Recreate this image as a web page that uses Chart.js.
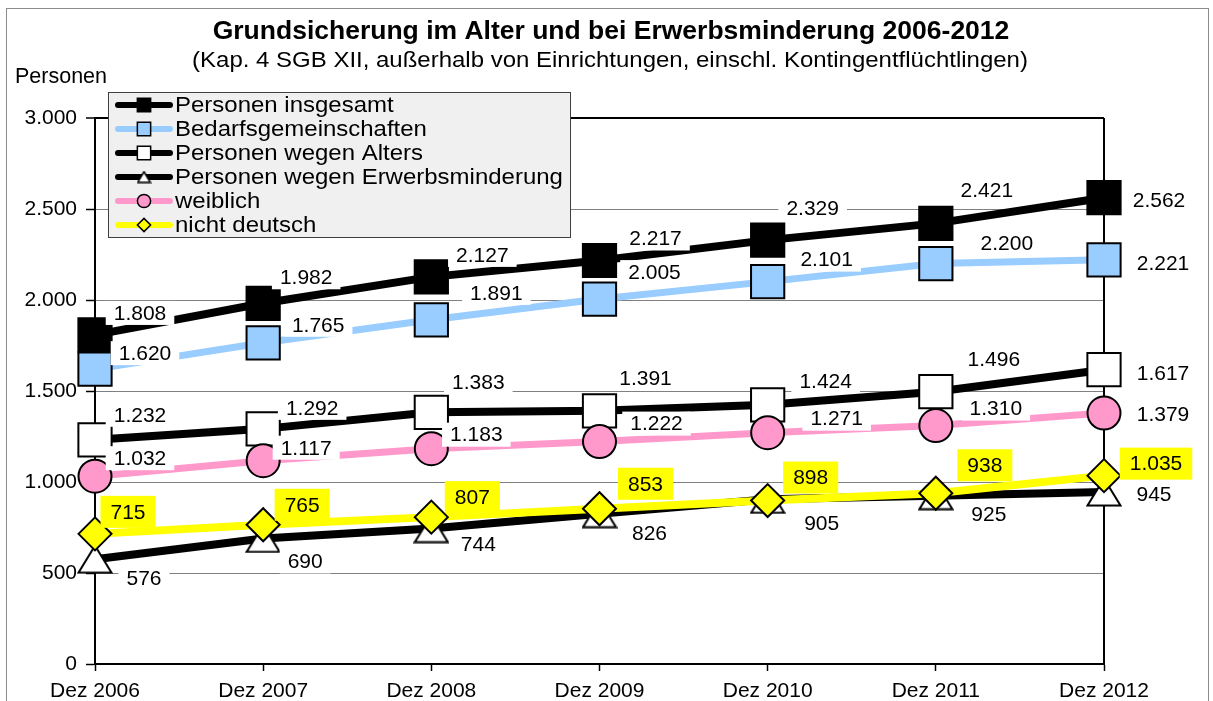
<!DOCTYPE html>
<html>
<head>
<meta charset="utf-8">
<script src="https://cdn.jsdelivr.net/npm/chart.js@4.4.0/dist/chart.umd.min.js"></script>
<style>
  html, body { margin: 0; padding: 0; background: #fff; }
  #wrap { width: 1213px; height: 701px; }
</style>
</head>
<body>
<div id="wrap"><canvas id="chart" width="1213" height="701"></canvas></div>
<script>
// data (Tsd. Personen)
const categories = ['Dez 2006', 'Dez 2007', 'Dez 2008', 'Dez 2009', 'Dez 2010', 'Dez 2011', 'Dez 2012'];
const personenInsgesamt = [1808, 1982, 2127, 2217, 2329, 2421, 2562];
const bedarfsgemeinschaften = [1620, 1765, 1891, 2005, 2101, 2200, 2221];
const wegenAlters = [1232, 1292, 1383, 1391, 1424, 1496, 1617];
const wegenErwerbsminderung = [576, 690, 744, 826, 905, 925, 945];
const weiblich = [1032, 1117, 1183, 1222, 1271, 1310, 1379];
const nichtDeutsch = [715, 765, 807, 853, 898, 938, 1035];
const yTicks = [0, 500, 1000, 1500, 2000, 2500, 3000];

const titleText = 'Grundsicherung im Alter und bei Erwerbsminderung 2006-2012';
const subtitleText = '(Kap. 4 SGB XII, außerhalb von Einrichtungen, einschl. Kontingentflüchtlingen)';
const FONT = '"Liberation Sans", Arial, sans-serif';

// label nudges relative to the point (px), like the hand-placed Excel labels
const nudgeX = [
  [45, 43, 51, 56, 45, 51, 55],
  [50, 55, 65, 55, 59, 71, 59],
  [45, 49, 47, 46, 58, 58, 59],
  [49, 42, 47, 50, 54, 53, 50],
  [45, 43, 45, 57, 69, 60, 59],
  [33, 39, 41, 46, 43, 49, 52]
];
const nudgeY = [
  [-22, -26, -22, -22, -32, -33, 2],
  [-16, -18, -27, -27, -22, -20, 3],
  [-25, -21, -30, -33, -24, -33, 3],
  [19, 23, 16, 20, 24, 19, 2],
  [-18, -13, -14, -18, -14, -17, 1],
  [-22, -20, -20, -25, -23, -28, -12]
];

function fmt(v) {
  return String(v).replace(/\B(?=(\d{3})+(?!\d))/g, '.');
}

// Excel-like triangle: centred on its bounding box, not on its centroid
function triangleMarker(w, h, lw) {
  const cv = document.createElement('canvas');
  cv.width = w; cv.height = h;
  const c = cv.getContext('2d');
  c.beginPath();
  c.moveTo(w / 2, lw / 2 + 0.5);
  c.lineTo(w - lw / 2 - 0.5, h - lw / 2 - 0.5);
  c.lineTo(lw / 2 + 0.5, h - lw / 2 - 0.5);
  c.closePath();
  c.fillStyle = '#fff';
  c.fill();
  c.lineWidth = lw;
  c.strokeStyle = '#000';
  c.stroke();
  return cv;
}
const bigTriangle = triangleMarker(36, 30, 2);
const smallTriangle = triangleMarker(15, 13, 1.5);

function makeSeries(label, data, line, fill, style, radius, width, labelBg) {
  return {
    label, data,
    borderColor: line,
    borderWidth: width,
    pointStyle: style,
    pointRadius: radius,
    pointBackgroundColor: fill,
    pointBorderColor: '#000',
    pointBorderWidth: 2,
    tension: 0,
    clip: false,
    labelBg
  };
}

const datasets = [
  makeSeries('Personen insgesamt', personenInsgesamt, '#000000', '#000000', 'rect', 23.5, 8, '#ffffff'),
  makeSeries('Bedarfsgemeinschaften', bedarfsgemeinschaften, '#99CCFF', '#99CCFF', 'rect', 23.5, 7, '#ffffff'),
  makeSeries('Personen wegen Alters', wegenAlters, '#000000', '#ffffff', 'rect', 23.5, 8, '#ffffff'),
  makeSeries('Personen wegen Erwerbsminderung', wegenErwerbsminderung, '#000000', '#ffffff', bigTriangle, 18, 8, '#ffffff'),
  makeSeries('weiblich', weiblich, '#FF99CC', '#FF99CC', 'circle', 16.5, 7, '#ffffff'),
  makeSeries('nicht deutsch', nichtDeutsch, '#FFFF00', '#FFFF00', 'rectRot', 16.5, 8, '#FFFF00')
];
// later series on top, as in the original
datasets.forEach((d, i) => { d.order = datasets.length - 1 - i; });

const framePlugin = {
  id: 'frame',
  beforeDraw(chart) {
    const c = chart.ctx;
    c.save();
    c.fillStyle = '#fff';
    c.fillRect(0, 0, chart.width, chart.height);
    c.strokeStyle = '#8c8c8c';
    c.lineWidth = 1;
    c.strokeRect(6.5, 8.5, 1202, 720);

    c.fillStyle = '#000';
    c.textAlign = 'center';
    c.textBaseline = 'middle';
    c.font = 'bold 26.5px ' + FONT;
    c.fillText(titleText, 611, 32);

    c.save();
    c.translate(610, 61);
    c.scale(1.09, 1);
    c.font = '22px ' + FONT;
    c.fillText(subtitleText, 0, 0);
    c.restore();

    c.textAlign = 'left';
    c.textBaseline = 'alphabetic';
    c.font = '21.5px ' + FONT;
    c.fillText('Personen', 15, 83);
    c.restore();
  },
  beforeDatasetsDraw(chart) {
    const c = chart.ctx, a = chart.chartArea;
    c.save();
    c.strokeStyle = '#000';
    c.lineWidth = 2;
    c.beginPath();
    c.moveTo(a.right, a.top);
    c.lineTo(a.right, a.bottom);
    c.stroke();
    c.restore();
  }
};

const labelPlugin = {
  id: 'valueLabels',
  afterDatasetsDraw(chart) {
    const c = chart.ctx;
    c.save();
    c.font = '21px ' + FONT;
    c.textAlign = 'center';
    c.textBaseline = 'middle';
    chart.data.datasets.forEach((ds, i) => {
      const meta = chart.getDatasetMeta(i);
      meta.data.forEach((pt, j) => {
        const txt = fmt(ds.data[j]);
        const x = pt.x + nudgeX[i][j];
        const y = pt.y + nudgeY[i][j];
        const yellow = ds.labelBg !== '#ffffff';
        const w = c.measureText(txt).width + (yellow ? 20 : 16);
        const h = yellow ? 32 : 24;
        c.fillStyle = ds.labelBg;
        c.fillRect(x - w / 2, y - h / 2, w, h);
        c.fillStyle = '#000';
        c.fillText(txt, x, y + 1);
      });
    });
    c.restore();
  }
};

const legendPlugin = {
  id: 'boxLegend',
  afterDraw(chart) {
    const c = chart.ctx;
    c.save();
    c.fillStyle = '#F0F0F0';
    c.fillRect(108.5, 92.5, 462, 145);
    c.strokeStyle = '#404040';
    c.lineWidth = 1;
    c.strokeRect(108.5, 92.5, 462, 145);
    chart.data.datasets.forEach((ds, i) => {
      const cy = 105 + i * 24;
      c.strokeStyle = ds.borderColor;
      c.lineWidth = 6;
      c.lineCap = 'round';
      c.beginPath();
      c.moveTo(118, cy);
      c.lineTo(170, cy);
      c.stroke();
      if (typeof ds.pointStyle === 'string') {
        c.fillStyle = ds.pointBackgroundColor;
        c.strokeStyle = '#000';
        c.lineWidth = 1.5;
        Chart.helpers.drawPoint(c, {
          pointStyle: ds.pointStyle,
          radius: ds.pointRadius * 0.4,
          rotation: 0,
          borderWidth: 1.5
        }, 144, cy);
      } else {
        c.drawImage(smallTriangle, 144 - smallTriangle.width / 2, cy - smallTriangle.height / 2);
      }
      c.save();
      c.translate(175, cy + 1);
      c.scale(1.09, 1);
      c.fillStyle = '#000';
      c.font = '22px ' + FONT;
      c.textAlign = 'left';
      c.textBaseline = 'middle';
      c.fillText(ds.label, 0, 0);
      c.restore();
    });
    c.restore();
  }
};

new Chart(document.getElementById('chart').getContext('2d'), {
  type: 'line',
  data: { labels: categories, datasets },
  options: {
    responsive: false,
    animation: false,
    events: [],
    layout: { padding: { left: 0, top: 118, right: 109, bottom: 0 } },
    plugins: {
      legend: { display: false },
      title: { display: false },
      tooltip: { enabled: false }
    },
    scales: {
      x: {
        offset: false,
        ticks: {
          color: '#000', font: { family: FONT, size: 21 },
          padding: 8, maxRotation: 0, autoSkip: false
        },
        grid: { drawOnChartArea: false, drawTicks: true, tickLength: 7, tickColor: '#000', tickWidth: 1.5 },
        border: { color: '#000', width: 2 },
        afterFit(s) { s.height = 37; }
      },
      y: {
        min: 0, max: 3000,
        afterBuildTicks(s) { s.ticks = yTicks.map(v => ({ value: v })); },
        ticks: {
          color: '#000', font: { family: FONT, size: 21 },
          padding: 9, callback: v => fmt(v)
        },
        grid: {
          color: ctx => ctx.tick.value === 3000 ? '#000' : (ctx.tick.value === 0 ? 'rgba(0,0,0,0)' : '#808080'),
          lineWidth: ctx => ctx.tick.value === 3000 ? 2 : 1,
          tickColor: '#000', tickLength: 9, tickWidth: 1.5
        },
        border: { color: '#000', width: 2 },
        afterFit(s) { s.width = 95; }
      }
    }
  },
  plugins: [framePlugin, labelPlugin, legendPlugin]
});
</script>
</body>
</html>
